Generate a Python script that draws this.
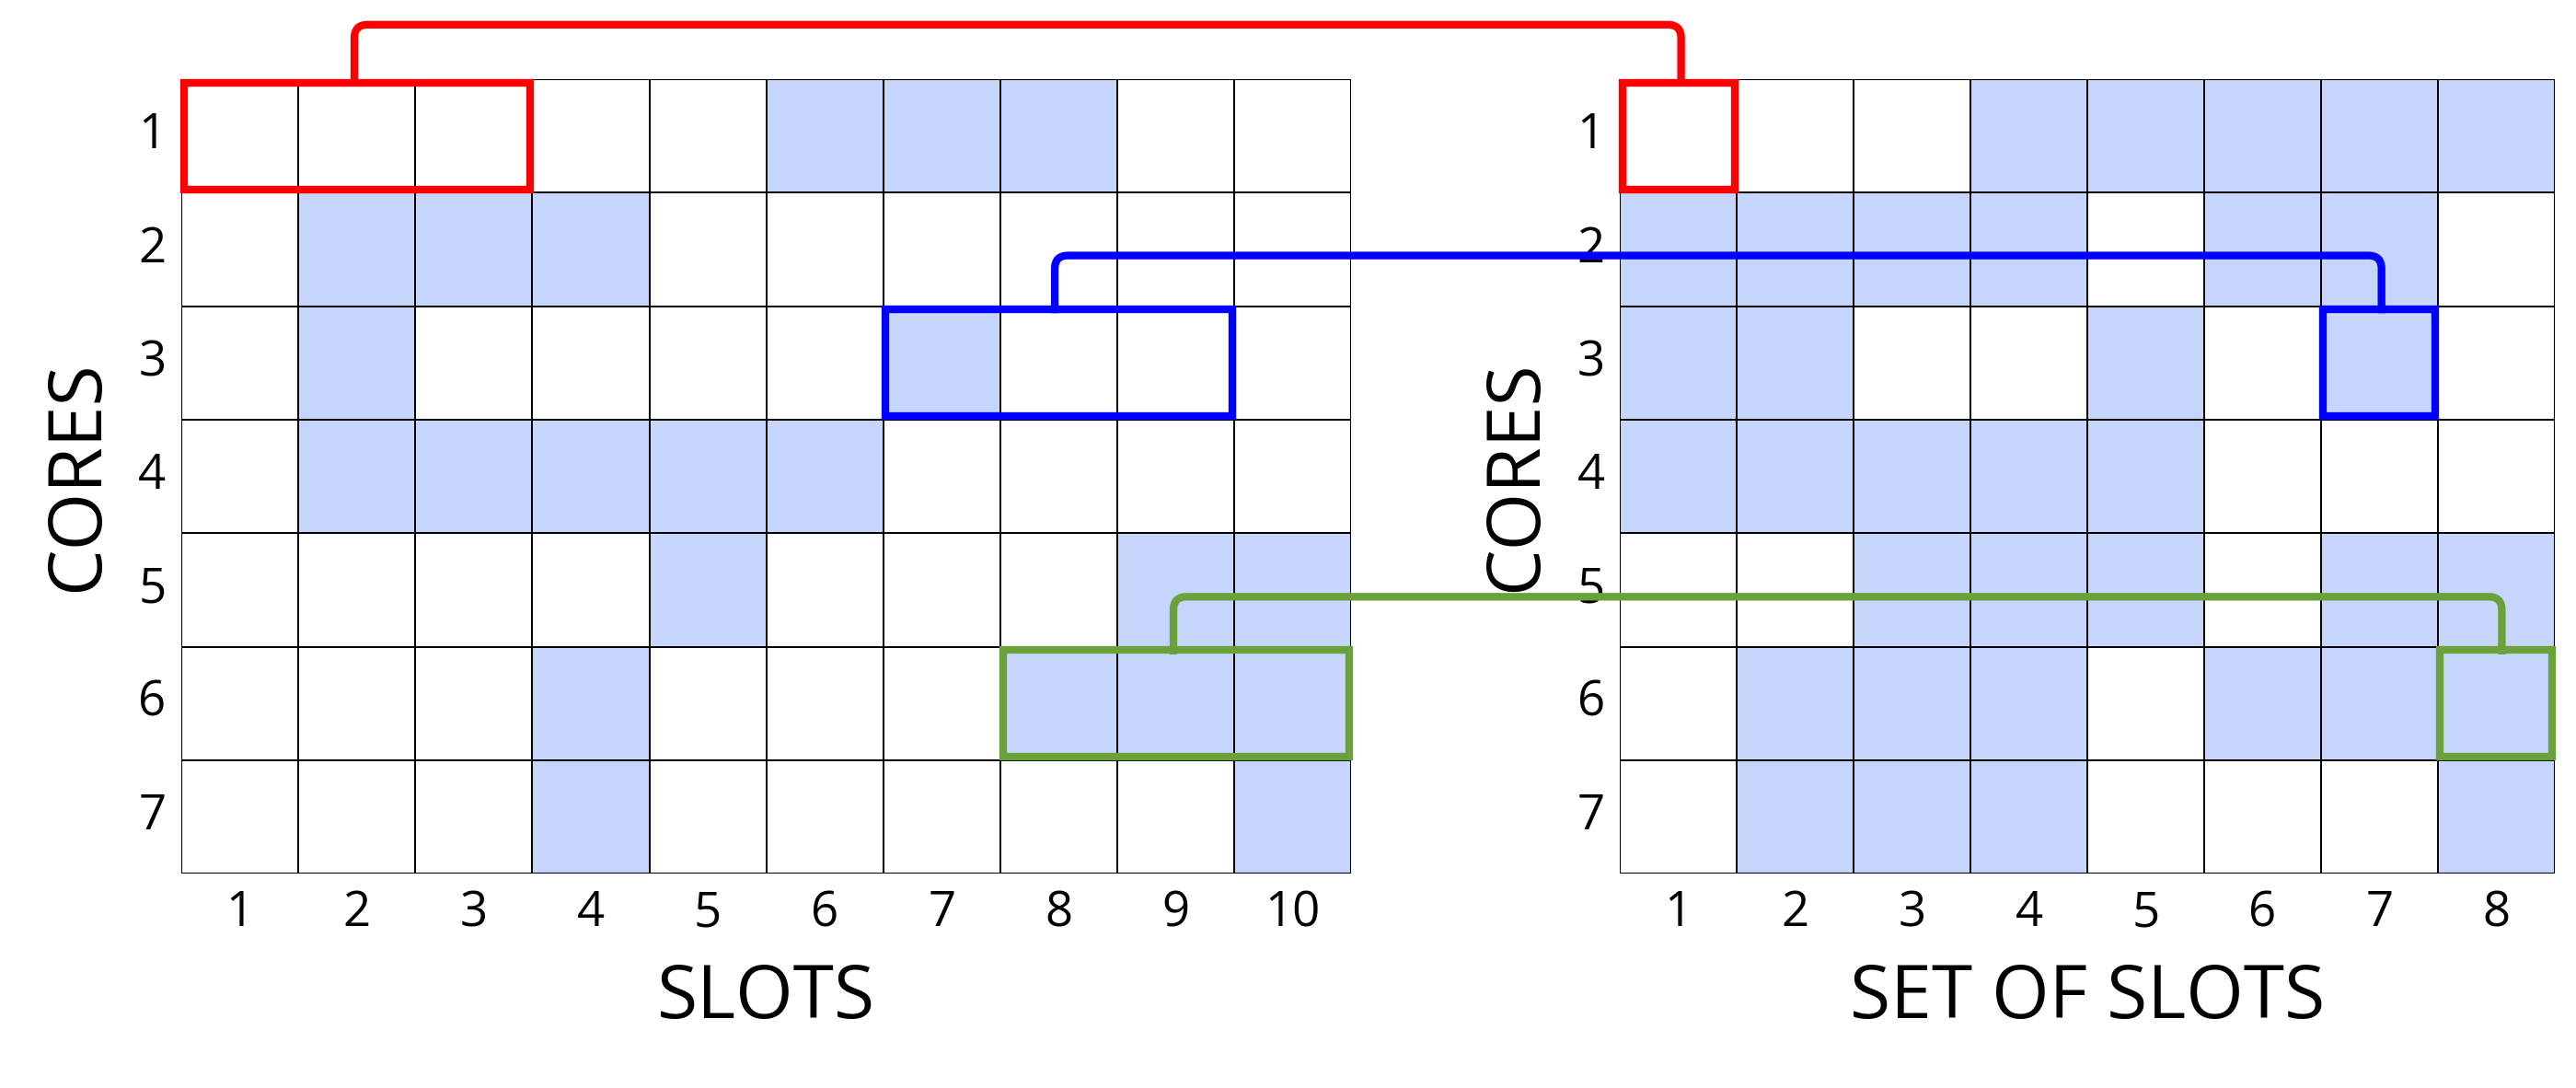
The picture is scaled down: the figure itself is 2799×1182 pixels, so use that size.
import numpy as np, pandas as pd, seaborn as sns, matplotlib
matplotlib.use("Agg")
import matplotlib.pyplot as plt
from matplotlib.patches import Rectangle, PathPatch
from matplotlib.path import Path
from matplotlib.colors import ListedColormap

cores = [1, 2, 3, 4, 5, 6, 7]
slots = [1, 2, 3, 4, 5, 6, 7, 8, 9, 10]
set_of_slots = [1, 2, 3, 4, 5, 6, 7, 8]
left_occ = [
    [0,0,0,0,0,1,1,1,0,0],
    [0,1,1,1,0,0,0,0,0,0],
    [0,1,0,0,0,0,1,0,0,0],
    [0,1,1,1,1,1,0,0,0,0],
    [0,0,0,0,1,0,0,0,1,1],
    [0,0,0,1,0,0,0,1,1,1],
    [0,0,0,1,0,0,0,0,0,1],
]
right_occ = [
    [0,0,0,1,1,1,1,1],
    [1,1,1,1,0,1,1,0],
    [1,1,0,0,1,0,1,0],
    [1,1,1,1,1,0,0,0],
    [0,0,1,1,1,0,1,1],
    [0,1,1,1,0,1,1,1],
    [0,1,1,1,0,0,0,1],
]
plt.rcParams['font.family'] = ['Open Sans', 'DejaVu Sans']
fig = plt.figure(figsize=(27.99, 11.82), dpi=100)
W, H = 1563, 660
def F(x, y): return (x / W, 1 - y / H)
cmap = ListedColormap(["white", "#c5d5fb"])
axL = fig.add_axes([110/W, 1-530/H, 710/W, 482/H])
axR = fig.add_axes([983/W, 1-530/H, 567/W, 482/H])
for ax, data, xl, xlab in [(axL, left_occ, slots, "SLOTS"), (axR, right_occ, set_of_slots, "SET OF SLOTS")]:
    df = pd.DataFrame(data, index=cores, columns=xl)
    sns.heatmap(df, ax=ax, cmap=cmap, vmin=0, vmax=1, cbar=False, linewidths=1.2, linecolor="black")
    ax.add_patch(Rectangle((0, 0), len(xl), 7, fill=False, lw=1.5, ec="black"))
    ax.tick_params(length=0, labelsize=38, pad=12)
    ax.set_yticklabels(cores, rotation=0)
    ax.set_xticklabels(xl, rotation=0)
    ax.set_xlabel(xlab, fontsize=58, labelpad=18)
    ax.set_ylabel("CORES", fontsize=58, labelpad=18)

boxes = [(axL, (0, 0), 3, "#ff0000"), (axR, (0, 0), 1, "#ff0000"),
         (axL, (6, 2), 3, "#0000ff"), (axR, (6, 2), 1, "#0000ff"),
         (axL, (7, 5), 3, "#6aa13a"), (axR, (7, 5), 1, "#6aa13a")]
for ax, xy, w, c in boxes:
    ax.add_patch(Rectangle((xy[0] + 0.02, xy[1] + 0.03), w - 0.04, 0.94, fill=False, lw=6, ec=c, clip_on=False, zorder=5))

def connector(x1, x2, ytop, ybot, c, r=8):
    pts = [F(x1, ybot), F(x1, ytop + r), F(x1, ytop), F(x1 + r, ytop),
           F(x2 - r, ytop), F(x2, ytop), F(x2, ytop + r), F(x2, ybot)]
    codes = [Path.MOVETO, Path.LINETO, Path.CURVE3, Path.CURVE3, Path.LINETO, Path.CURVE3, Path.CURVE3, Path.LINETO]
    fig.patches.append(PathPatch(Path(pts, codes), fill=False, ec=c, lw=6, transform=fig.transFigure, zorder=6))

connector(215, 1020, 15, 50, "#ff0000")
connector(640, 1445, 155, 190, "#0000ff")
connector(712, 1518, 362, 397, "#6aa13a")
fig.savefig("out.png", dpi=100)
